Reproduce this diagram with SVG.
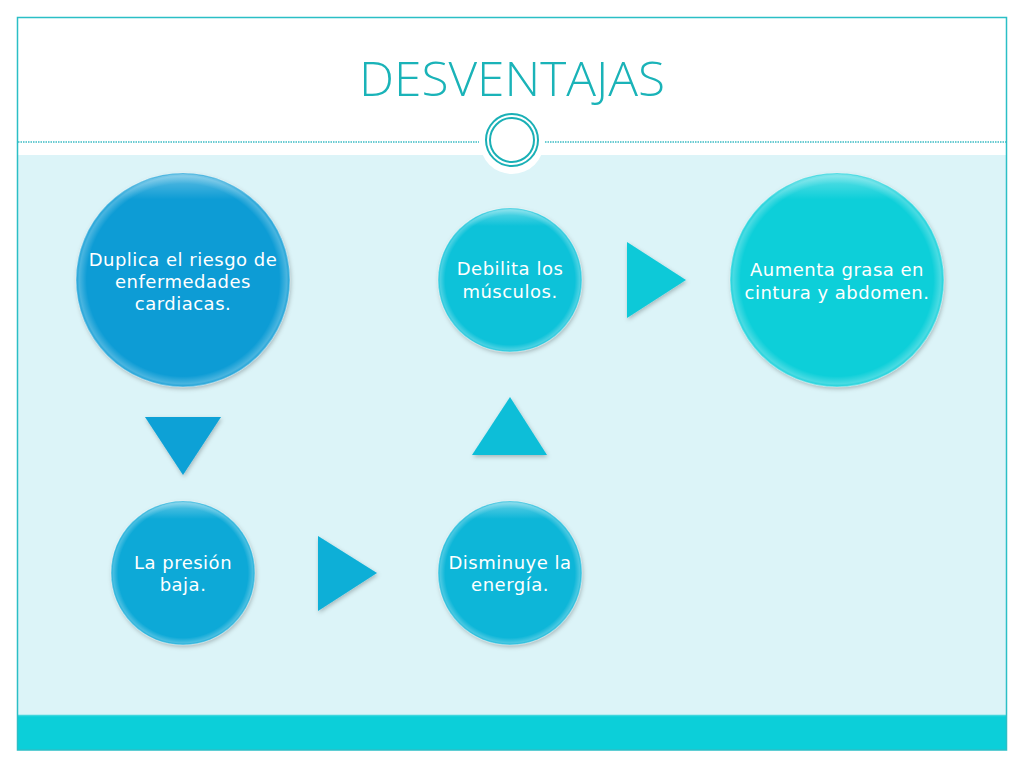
<svg xmlns="http://www.w3.org/2000/svg" width="1024" height="768" viewBox="0 0 1024 768">
<defs>
<filter id="sh" x="-20%" y="-20%" width="140%" height="140%">
<feDropShadow dx="1" dy="2" stdDeviation="2" flood-color="#000" flood-opacity="0.25"/>
</filter>
<radialGradient id="gl" cx="50%" cy="50%" r="50%">
<stop offset="0.9" stop-color="#fff" stop-opacity="0"/>
<stop offset="0.97" stop-color="#fff" stop-opacity="0.25"/>
<stop offset="1" stop-color="#fff" stop-opacity="0.05"/>
</radialGradient>
<linearGradient id="top" x1="0" y1="0" x2="0" y2="1">
<stop offset="0" stop-color="#fff" stop-opacity="0.35"/>
<stop offset="0.12" stop-color="#fff" stop-opacity="0"/>
<stop offset="1" stop-color="#fff" stop-opacity="0"/>
</linearGradient>
</defs>
<style>
.lbl{font-family:"DejaVu Sans","Liberation Sans",sans-serif;font-size:18px;letter-spacing:0.5px;fill:#ffffff;text-anchor:middle}
.rim{fill:url(#gl);stroke:#ffffff;stroke-opacity:0.35;stroke-width:1.5}
.hl{fill:url(#top)}
.tri{filter:url(#sh)}
</style>
<rect x="0" y="0" width="1024" height="768" fill="#ffffff"/>
<rect x="17" y="155" width="990" height="560" fill="#dcf4f8"/>
<rect x="17" y="715" width="990" height="35" fill="#0ccfd9"/>
<line x1="17" y1="715.5" x2="1007" y2="715.5" stroke="#3fd6dd" stroke-width="1.5"/>
<rect x="17.5" y="17.5" width="989" height="732.5" fill="none" stroke="#2bbfc6" stroke-width="1.5"/>
<line x1="18" y1="142" x2="479" y2="142" stroke="#3bbcc4" stroke-width="1.5" stroke-dasharray="1.5 1"/>
<line x1="545" y1="142" x2="1006" y2="142" stroke="#3bbcc4" stroke-width="1.5" stroke-dasharray="1.5 1"/>
<circle cx="512" cy="142" r="32" fill="#ffffff"/>
<circle cx="512" cy="140" r="26" fill="none" stroke="#1ab0b6" stroke-width="2"/>
<circle cx="512" cy="140" r="22" fill="none" stroke="#1ab0b6" stroke-width="2"/>
<text x="512" y="96" font-family="'Open Sans','Liberation Sans',sans-serif" font-weight="300" font-size="48" fill="#1ab3b8" text-anchor="middle" textLength="306" lengthAdjust="spacingAndGlyphs">DESVENTAJAS</text>

<g id="connectors">
<polygon class="tri" points="145,417 221,417 183,475" fill="#0aa1d6"/>
<polygon class="tri" points="318,536 377,573 318,611" fill="#0aafd7"/>
<polygon class="tri" points="510,397 547,455 472,455" fill="#0dbed8"/>
<polygon class="tri" points="627,242 686,280 627,318" fill="#0cc9d8"/>
</g>

<g id="n1">
<circle cx="183" cy="280" r="107" fill="#0a9cd5" filter="url(#sh)"/>
<circle cx="183" cy="280" r="107" class="rim"/>
<circle cx="183" cy="280" r="106" class="hl"/>
<text class="lbl" x="183" y="266">Duplica el riesgo de</text>
<text class="lbl" x="183" y="288">enfermedades</text>
<text class="lbl" x="183" y="310">cardiacas.</text>
</g>
<g id="n2">
<circle cx="183" cy="573" r="72" fill="#0aa9d7" filter="url(#sh)"/>
<circle cx="183" cy="573" r="72" class="rim"/>
<circle cx="183" cy="573" r="71" class="hl"/>
<text class="lbl" x="183" y="569">La presión</text>
<text class="lbl" x="183" y="591">baja.</text>
</g>
<g id="n3">
<circle cx="510" cy="573" r="72" fill="#0db6d8" filter="url(#sh)"/>
<circle cx="510" cy="573" r="72" class="rim"/>
<circle cx="510" cy="573" r="71" class="hl"/>
<text class="lbl" x="510" y="569">Disminuye la</text>
<text class="lbl" x="510" y="591">energía.</text>
</g>
<g id="n4">
<circle cx="510" cy="280" r="72" fill="#0bc2d9" filter="url(#sh)"/>
<circle cx="510" cy="280" r="72" class="rim"/>
<circle cx="510" cy="280" r="71" class="hl"/>
<text class="lbl" x="510" y="275">Debilita los</text>
<text class="lbl" x="510" y="298">músculos.</text>
</g>
<g id="n5">
<circle cx="837" cy="280" r="107" fill="#0ccfd9" filter="url(#sh)"/>
<circle cx="837" cy="280" r="107" class="rim"/>
<circle cx="837" cy="280" r="106" class="hl"/>
<text class="lbl" x="837" y="276">Aumenta grasa en</text>
<text class="lbl" x="837" y="299">cintura y abdomen.</text>
</g>
</svg>
